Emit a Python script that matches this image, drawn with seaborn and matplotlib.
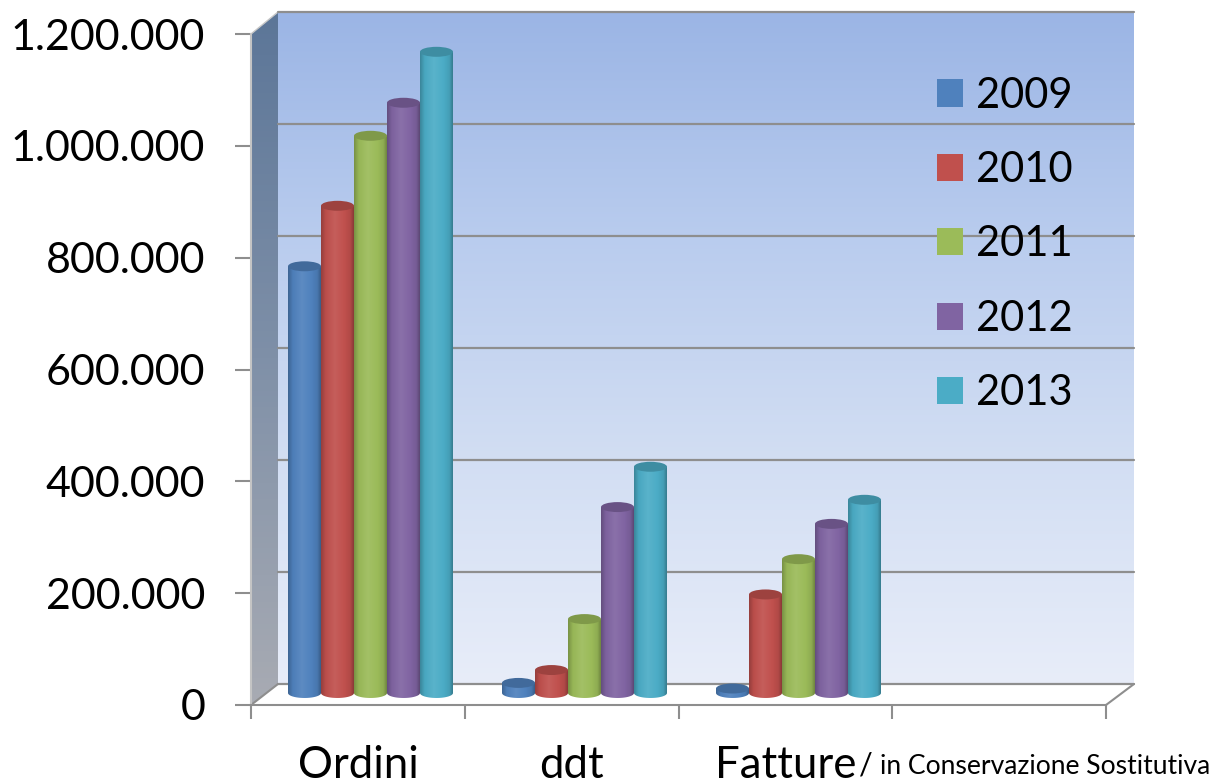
import numpy as np
import pandas as pd
import matplotlib
matplotlib.use('Agg')
import matplotlib.pyplot as plt
from matplotlib.colors import LinearSegmentedColormap, to_rgb
from matplotlib.patches import Ellipse, Polygon
from matplotlib.ticker import FixedLocator, NullFormatter
import seaborn as sns

# Data
categories = ['Ordini', 'ddt', 'Fatture']
axis_order = ['Ordini', 'ddt', 'Fatture', ' ']
years = ['2009', '2010', '2011', '2012', '2013']
values_2009 = [762000, 18000, 8000]
values_2010 = [870000, 41000, 176000]
values_2011 = [995000, 132000, 239000]
values_2012 = [1054000, 332000, 302000]
values_2013 = [1145000, 404000, 345000]
y_ticks = [0, 200000, 400000, 600000, 800000, 1000000, 1200000]
y_labels = ['0', '200.000', '400.000', '600.000', '800.000', '1.000.000', '1.200.000']
colors = ['#4F81BD', '#C0504D', '#9BBB59', '#8064A2', '#4BACC6']
note = 'in Conservazione Sostitutiva'

W, H = 1216, 783
GREY = '#8E8E8E'

sns.set_theme(style='white')
plt.rcParams['font.family'] = ['Lato', 'DejaVu Sans']

fig = plt.figure(figsize=(W / 100, H / 100), dpi=100)


def px_axes(x0, x1, ytop, ybot, z):
    # axes placed by pixel box of the target image
    ax = fig.add_axes([x0 / W, 1 - ybot / H, (x1 - x0) / W, (ybot - ytop) / H], zorder=z)
    ax.patch.set_alpha(0)
    return ax


def shade(color, k):
    return tuple(min(1, c * k) for c in to_rgb(color))


def lighten(color, k):
    return tuple(c + (1 - c) * k for c in to_rgb(color))


# side wall and floor edges, in pixel coordinates
ax_room = px_axes(0, W, 0, H, 0)
wall_cmap = LinearSegmentedColormap.from_list('wall', ['#5C7698', '#7F90A8', '#A8ABB3'])
wall = ax_room.imshow(np.linspace(0, 1, 128)[:, None], extent=(251, 278, 705, 12), origin='upper',
                      aspect='auto', cmap=wall_cmap)
wall.set_clip_path(Polygon([(251, 34), (278, 12), (278, 684), (251, 705)], transform=ax_room.transData))
ax_room.plot([251, 278], [705, 684], color=GREY, lw=1.5)
ax_room.plot([1106, 1134], [705, 684], color=GREY, lw=1.5)
ax_room.plot([251, 278], [34, 12], color='#C8C8C8', lw=1)
ax_room.set_xlim(0, W)
ax_room.set_ylim(H, 0)
ax_room.axis('off')

# back wall with its gridlines
ax_back = px_axes(278, 1134, 12, 684, 1)
back_cmap = LinearSegmentedColormap.from_list('back', ['#9BB5E5', '#B9CCEE', '#D2DEF3', '#E8EDF9'])
ax_back.imshow(np.linspace(0, 1, 256)[:, None], extent=(0, 1, 0, 1200000), origin='upper',
               aspect='auto', cmap=back_cmap, zorder=0)
for v in y_ticks:
    ax_back.axhline(v, color=GREY, lw=1.6, zorder=1, clip_on=False)
ax_back.set_xlim(0, 1)
ax_back.set_ylim(0, 1200000)
ax_back.axis('off')

# front axis: value ticks and category ticks
ax_front = px_axes(251, 1106, 34, 705, 2)
ax_front.set_xlim(-0.5, 3.5)
ax_front.set_ylim(0, 1200000)
ax_front.set_yticks(y_ticks)
ax_front.set_yticklabels(y_labels, fontsize=31, color='black')
ax_front.tick_params(axis='y', length=11.5, width=1.5, color=GREY, pad=21.5, left=True)
ax_front.xaxis.set_major_locator(FixedLocator([-0.5, 0.5, 1.5, 2.5, 3.5]))
ax_front.xaxis.set_major_formatter(NullFormatter())
ax_front.set_xticks([0, 1, 2], categories, minor=True, fontsize=31.5, color='black')
ax_front.tick_params(axis='x', which='major', length=10, width=1.5, color=GREY, bottom=True)
ax_front.tick_params(axis='x', which='minor', length=0, pad=29)
sns.despine(ax=ax_front, top=True, right=True)
for side in ['left', 'bottom']:
    ax_front.spines[side].set_color(GREY)
    ax_front.spines[side].set_linewidth(1.5)
ax_front.spines['left'].set_color('#C4C4C4')

# bars sit halfway into the room
df = pd.DataFrame({
    'categoria': categories * 5,
    'anno': np.repeat(years, 3),
    'valore': values_2009 + values_2010 + values_2011 + values_2012 + values_2013,
})
ax = px_axes(263.5, 1119.5, 21, 715.4, 3)
sns.barplot(data=df, x='categoria', y='valore', hue='anno', order=axis_order, hue_order=years,
            palette=colors, saturation=1, width=0.771, gap=0, errorbar=None, linewidth=0, ax=ax)
ax.set_xlim(-0.5, 3.5)
ax.set_ylim(-40000, 1200000)

# turn the flat bars into cylinders
RY = 8900
for c_i, container in enumerate(ax.containers):
    col = colors[c_i]
    cmap = LinearSegmentedColormap.from_list('cyl' + str(c_i), [
        (0, shade(col, 0.78)), (0.14, shade(col, 0.97)), (0.42, lighten(col, 0.08)),
        (0.72, col), (0.9, shade(col, 0.92)), (1, shade(col, 0.72))])
    edge = shade(col, 0.82)
    for bar in container:
        if np.isnan(bar.get_height()):
            continue
        x0, w, h = bar.get_x(), bar.get_width(), bar.get_height()
        z = 3 + c_i * 0.1
        bar.set_zorder(z)
        body = ax.imshow(np.linspace(0, 1, 64)[None, :], extent=(x0, x0 + w, -RY, h), aspect='auto',
                         cmap=cmap, zorder=z + 0.01, interpolation='bilinear')
        t = np.linspace(np.pi, 2 * np.pi, 40)
        lower = np.column_stack([x0 + w / 2 + w / 2 * np.cos(t), RY * np.sin(t)])
        outline = np.vstack([[[x0, h]], lower, [[x0 + w, h]]])
        body.set_clip_path(Polygon(outline, transform=ax.transData))
        ax.add_patch(Ellipse((x0 + w / 2, h), w, 2 * RY, facecolor=edge, edgecolor='none', zorder=z + 0.02))
ax.set_xlim(-0.5, 3.5)
ax.set_ylim(-40000, 1200000)
ax.axis('off')

sns.move_legend(ax, 'upper left', bbox_to_anchor=(0.787, 0.92), frameon=False, title=None,
                fontsize=30, handlelength=0.63, handleheight=0.63, handletextpad=0.3,
                labelspacing=0.875, borderpad=0, borderaxespad=0)
for handle in ax.get_legend().get_patches():
    handle.set_edgecolor('none')
for text in ax.get_legend().get_texts():
    text.set_color('black')

# note beside the last category label
fig.text(866 / W, 1 - 765 / H, '/', fontsize=22, color='black', ha='center', va='center')
fig.text(880 / W, 1 - 774 / H, note, fontsize=19.1, color='black', ha='left', va='baseline')

fig.savefig('out.png', dpi=100)
